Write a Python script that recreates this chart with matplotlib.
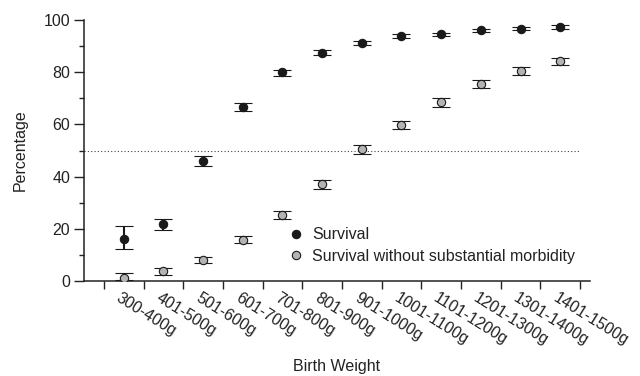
import matplotlib
matplotlib.use("Agg")
import matplotlib.pyplot as plt
import matplotlib.transforms as mtransforms
import numpy as np

# Birth weight groups
weight_groups = [
    "300-400g", "401-500g", "501-600g", "601-700g", "701-800g", "801-900g",
    "901-1000g", "1001-1100g", "1101-1200g", "1201-1300g", "1301-1400g", "1401-1500g",
]

# Survival (%) with lower / upper error bounds
survival = [16.2, 21.7, 46.1, 66.7, 80.0, 87.4, 91.2, 93.9, 94.5, 96.0, 96.6, 97.3]
survival_lo = [12.3, 19.7, 44.2, 65.1, 78.5, 86.4, 90.4, 93.1, 93.8, 95.3, 96.0, 96.7]
survival_hi = [21.2, 23.9, 48.0, 68.3, 81.0, 88.4, 92.0, 94.6, 95.2, 96.7, 97.2, 97.9]

# Survival without substantial morbidity (%)
no_morb = [1.0, 3.7, 8.0, 15.8, 25.2, 37.0, 50.6, 59.9, 68.6, 75.6, 80.5, 84.2]
no_morb_lo = [0.4, 2.4, 6.9, 14.6, 23.8, 35.4, 48.8, 58.2, 66.8, 73.9, 78.9, 82.6]
no_morb_hi = [3.1, 5.0, 9.2, 17.2, 26.7, 38.6, 52.2, 61.4, 70.1, 77.0, 81.9, 85.4]

plt.rcParams["font.family"] = ["Liberation Sans", "DejaVu Sans"]
TEXT = "#222222"

fig = plt.figure(figsize=(6.4, 3.76), dpi=100)
ax = fig.add_axes([84 / 640, 1 - 281 / 376, (590 - 84) / 640, 261 / 376])

x = np.arange(len(weight_groups))


def err(vals, lo, hi):
    v = np.array(vals)
    return [v - np.array(lo), np.array(hi) - v]


ax.axhline(50, xmin=0, xmax=(11.5 + 1) / 12.75, color="#444444",
           linestyle=(0, (1, 2)), linewidth=0.8, zorder=1)

common = dict(fmt="o", ecolor="#1a1a1a", elinewidth=1.5, capsize=6.3, capthick=2.2,
              markersize=6, markeredgewidth=0.8, markeredgecolor="#1a1a1a")
c1 = ax.errorbar(x, survival, yerr=err(survival, survival_lo, survival_hi),
                 markerfacecolor="#1a1a1a", label="Survival", zorder=3, **common)
c2 = ax.errorbar(x, no_morb, yerr=err(no_morb, no_morb_lo, no_morb_hi),
                 markerfacecolor="#b3b3b3", label="Survival without substantial morbidity",
                 zorder=3, **common)

ax.set_xlim(-1, 11.75)
ax.set_ylim(0, 100)

for side in ("top", "right"):
    ax.spines[side].set_visible(False)
for side in ("left", "bottom"):
    ax.spines[side].set_color(TEXT)
    ax.spines[side].set_linewidth(1.1)

ax.set_yticks([0, 20, 40, 60, 80, 100])
ax.set_yticks([10, 30, 50, 70, 90], minor=True)
ax.tick_params(axis="y", which="major", length=7, width=1, colors=TEXT,
               labelsize=11.5, pad=3)
ax.tick_params(axis="y", which="minor", length=3.5, width=1, colors=TEXT)

# boundary ticks without labels, category labels on minor ticks
ax.set_xticks(np.arange(-0.5, 12, 1.0))
ax.set_xticklabels([])
ax.set_xticks(x, minor=True)
ax.set_xticklabels(weight_groups, minor=True, rotation=-32, ha="left", va="top",
                   rotation_mode="anchor", fontsize=11.5, color=TEXT)
ax.tick_params(axis="x", which="major", length=6, width=1, colors=TEXT)
ax.tick_params(axis="x", which="minor", length=0, pad=7)
shift = mtransforms.ScaledTranslation(-2 / 100, 0, fig.dpi_scale_trans)
for lbl in ax.get_xticklabels(minor=True):
    lbl.set_transform(lbl.get_transform() + shift)

ax.set_ylabel("Percentage", fontsize=11.5, color=TEXT, labelpad=11)
ax.set_xlabel("Birth Weight", fontsize=11.5, color=TEXT, va="center")
ax.xaxis.set_label_coords(0.5, (281 - 367) / 261)

leg = ax.legend(handles=[c1[0], c2[0]],
                labels=["Survival", "Survival without substantial morbidity"],
                loc="upper left", bbox_to_anchor=(0.403, 0.205), frameon=False,
                fontsize=11.5, handlelength=1.0, handletextpad=0.5,
                borderpad=0, borderaxespad=0, labelspacing=0.38)
for t in leg.get_texts():
    t.set_color(TEXT)

fig.savefig("out.png", dpi=100)
